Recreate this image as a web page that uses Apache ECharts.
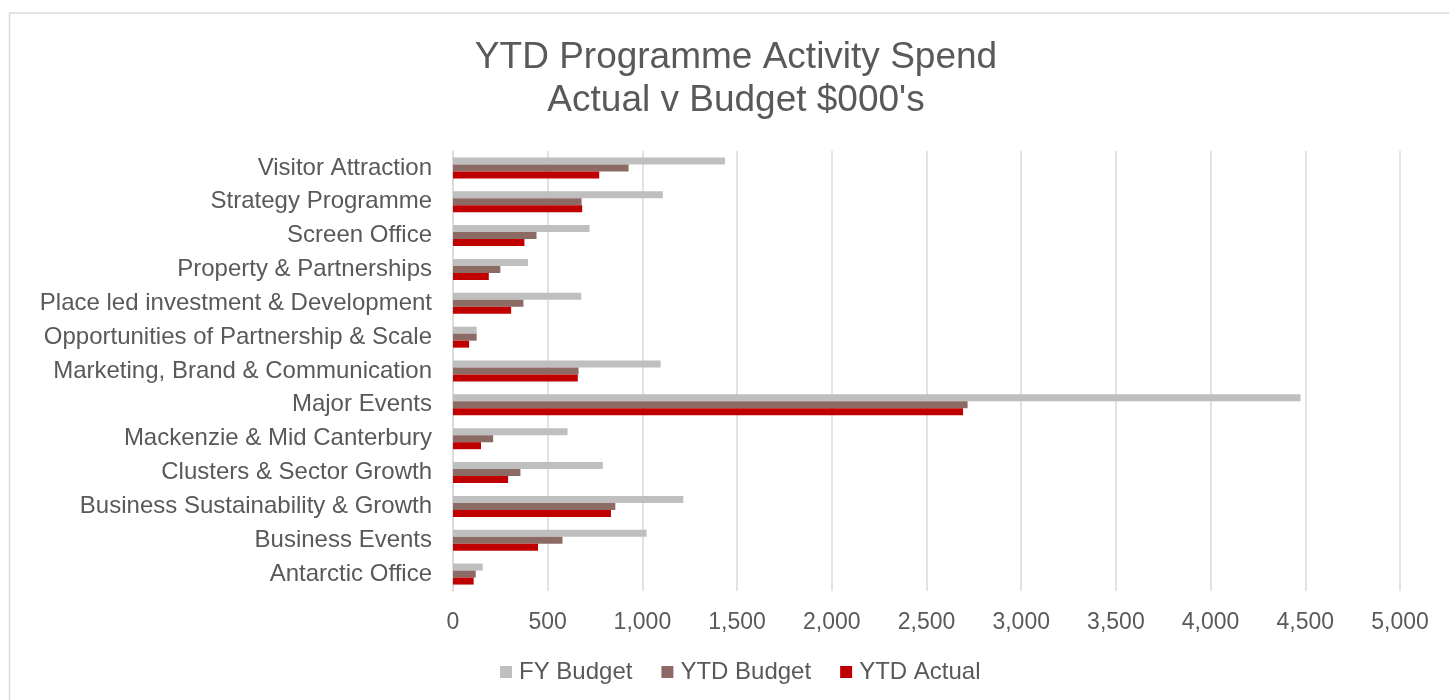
<!DOCTYPE html>
<html>
<head>
<meta charset="utf-8">
<script src="https://cdn.jsdelivr.net/npm/echarts@6/dist/echarts.min.js"></script>
<style>
  html, body { margin: 0; padding: 0; background: #ffffff; }
  #main { width: 1449px; height: 700px; }
</style>
</head>
<body>
<div id="main"></div>
<script>
// categories, top to bottom as shown
var categories = [
  'Visitor Attraction',
  'Strategy Programme',
  'Screen Office',
  'Property & Partnerships',
  'Place led investment & Development',
  'Opportunities of Partnership & Scale',
  'Marketing, Brand & Communication',
  'Major Events',
  'Mackenzie & Mid Canterbury',
  'Clusters & Sector Growth',
  'Business Sustainability & Growth',
  'Business Events',
  'Antarctic Office'
];

var fyBudget  = [1436, 1108, 721, 396, 677, 125, 1096, 4475, 605, 791, 1216, 1022, 157];
var ytdBudget = [927, 679, 441, 250, 372, 125, 663, 2717, 212, 356, 857, 578, 120];
var ytdActual = [772, 682, 377, 189, 307, 85, 659, 2693, 148, 291, 834, 449, 109];

var seriesNames = ['FY Budget', 'YTD Budget', 'YTD Actual'];
var seriesColors = ['#bfbfbf', '#8c6b64', '#c00000'];

var textColor = '#595959';
var fontName = 'Liberation Sans, Arial, sans-serif';

var myChart = echarts.init(document.getElementById('main'));

var option = {
  backgroundColor: '#ffffff',
  animation: false,
  title: {
    text: 'YTD Programme Activity Spend\nActual v Budget $000\'s',
    left: 736,
    top: 36,
    padding: 0,
    textAlign: 'center',
    textStyle: {
      color: textColor,
      fontFamily: fontName,
      fontWeight: 'normal',
      fontSize: 37,
      lineHeight: 43
    }
  },
  graphic: [{
    type: 'rect',
    shape: { x: 9.5, y: 13, width: 1460, height: 700 },
    style: { fill: 'none', stroke: '#d9d9d9', lineWidth: 1.5 },
    silent: true
  }],
  legend: {
    data: seriesNames,
    bottom: 11,
    left: 495,
    itemWidth: 12,
    itemHeight: 12,
    itemGap: 29,
    icon: 'rect',
    textStyle: {
      color: textColor,
      fontFamily: fontName,
      fontSize: 24,
      padding: [0, 0, 0, 2]
    }
  },
  grid: {
    left: 453,
    right: 49,
    top: 151,
    bottom: 109,
    containLabel: false
  },
  xAxis: {
    type: 'value',
    min: 0,
    max: 5000,
    interval: 500,
    axisLine: { show: false },
    axisTick: { show: false },
    splitLine: { lineStyle: { color: '#d9d9d9', width: 1.5 } },
    axisLabel: {
      color: textColor,
      fontFamily: fontName,
      fontSize: 23,
      margin: 20,
      formatter: function (v) { return v.toLocaleString('en-US'); }
    }
  },
  yAxis: {
    type: 'category',
    data: categories,
    inverse: true,
    axisLine: { show: true, lineStyle: { color: '#d9d9d9', width: 1.5 } },
    axisTick: { show: false },
    axisLabel: {
      color: textColor,
      fontFamily: fontName,
      fontSize: 24,
      margin: 21
    }
  },
  series: [
    { name: seriesNames[0], type: 'bar', data: fyBudget, barWidth: 7, barGap: '0%', itemStyle: { color: seriesColors[0] } },
    { name: seriesNames[1], type: 'bar', data: ytdBudget, barWidth: 7, barGap: '0%', itemStyle: { color: seriesColors[1] } },
    { name: seriesNames[2], type: 'bar', data: ytdActual, barWidth: 7, barGap: '0%', itemStyle: { color: seriesColors[2] } }
  ]
};

myChart.setOption(option);
</script>
</body>
</html>
